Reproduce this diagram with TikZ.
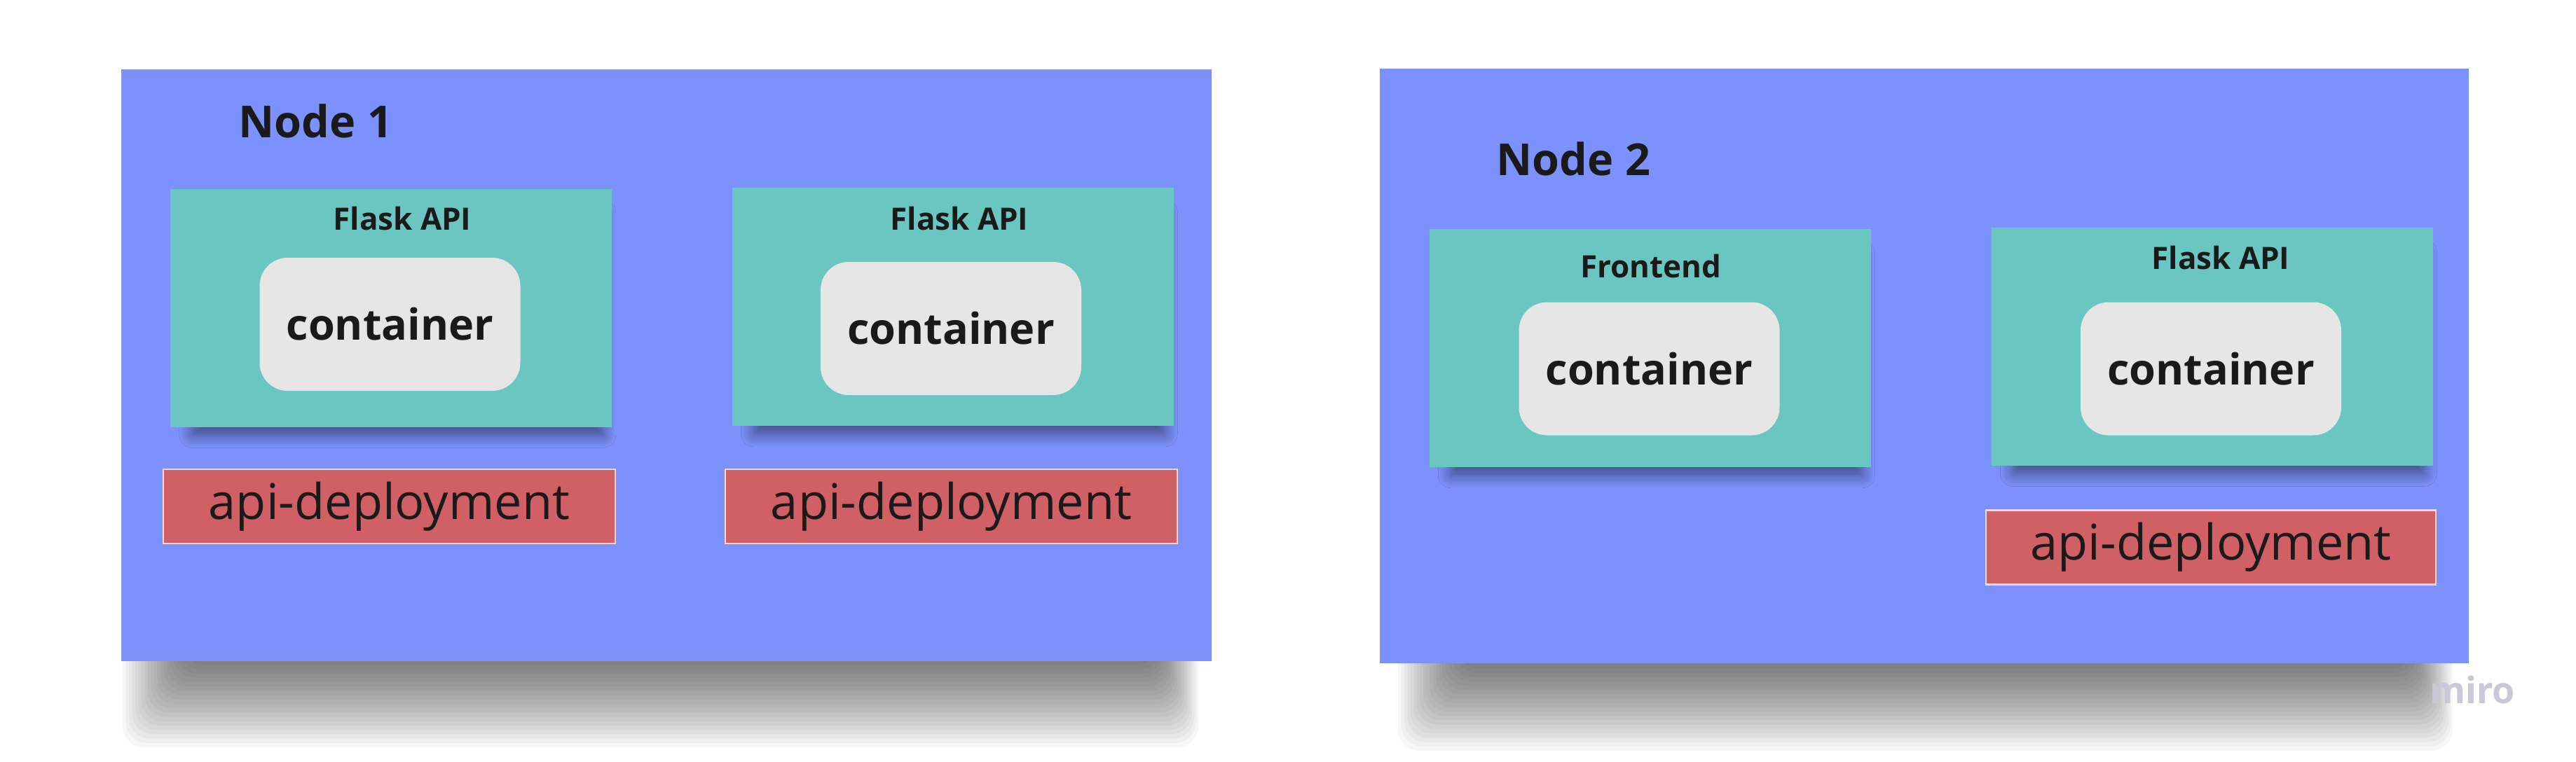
\documentclass[tikz,border=0pt]{standalone}
\usepackage{fontspec}
\setmainfont{Open Sans}
\usetikzlibrary{shadows.blur}

\definecolor{nodeblue}{RGB}{124,145,251}
\definecolor{podteal}{RGB}{105,198,193}
\definecolor{deplred}{RGB}{208,95,102}
\definecolor{ctrgray}{RGB}{230,230,230}
\definecolor{inkdark}{RGB}{26,26,26}
\definecolor{mirogray}{RGB}{200,200,214}

\begin{document}
\begin{tikzpicture}[every node/.style={text=inkdark, inner sep=0pt},
    nodebox/.style={rectangle, fill=nodeblue, minimum width=15.56cm, minimum height=8.45cm},
    shadowstrip/.style={fill=black, opacity=0.032, rounded corners=0.3cm},
    podbox/.style={rectangle, fill=podteal, minimum width=6.3cm, minimum height=3.4cm,
        blur shadow={shadow xshift=0.1cm, shadow yshift=-0.25cm, shadow scale=0.93, shadow blur radius=0.2cm,
        shadow blur steps=12, shadow opacity=50}},
    ctrbox/.style={rectangle, rounded corners=0.4cm, fill=ctrgray, minimum width=3.72cm, minimum height=1.9cm,
        font=\fontsize{17.4}{20}\selectfont\bfseries},
    deplbox/.style={rectangle, fill=deplred, draw=white!75!deplred, line width=0.6pt,
        minimum width=6.45cm, minimum height=1.06cm, font=\fontsize{20}{24}\selectfont},
    podlabel/.style={font=\fontsize{12.5}{15}\selectfont\bfseries},
    nodelabel/.style={anchor=west, font=\fontsize{17.9}{21}\selectfont\bfseries}]
    \useasboundingbox[fill=white] (0,0) rectangle (36.76,10.87);

    % shadows under the nodes
    \foreach \k in {0,...,19} {
        \fill[shadowstrip] ({1.75+\k*0.045},{0.2+\k*0.062}) rectangle ({17.1-\k*0.03},2.5);
        \fill[shadowstrip] ({19.95+\k*0.045},{0.15+\k*0.062}) rectangle ({35.0-\k*0.03},2.5);
    }

    % worker nodes
    \node[nodebox] (n1) at (9.505,5.655) {};
    \node[nodebox, minimum width=15.54cm, minimum height=8.49cm] (n2) at (27.46,5.645) {};
    \node[nodelabel] (n1t) at (3.40,9.14) {Node 1};
    \node[nodelabel] (n2t) at (21.35,8.60) {Node 2};

    % pods
    \node[podbox] (p1) at (5.58,6.475) {};
    \node[podbox] (p2) at (13.595,6.49) {};
    \node[podbox] (p3) at (23.545,5.90) {};
    \node[podbox] (p4) at (31.565,5.925) {};

    \node[podlabel] (p1t) at (5.74,7.75) {Flask API};
    \node[podlabel] (p2t) at (13.69,7.75) {Flask API};
    \node[podlabel] (p3t) at (23.56,7.07) {Frontend};
    \node[podlabel] (p4t) at (31.69,7.19) {Flask API};

    % containers
    \node[ctrbox] (c1) at (5.565,6.24) {container};
    \node[ctrbox] (c2) at (13.57,6.18) {container};
    \node[ctrbox] (c3) at (23.535,5.605) {container};
    \node[ctrbox] (c4) at (31.55,5.605) {container};

    % deployments
    \node[deplbox] (d1) at (5.555,3.64) {api-deployment};
    \node[deplbox] (d2) at (13.575,3.64) {api-deployment};
    \node[deplbox, minimum width=6.42cm] (d3) at (31.55,3.055) {api-deployment};

    \node[text=mirogray, font=\fontsize{14.8}{17}\selectfont\bfseries] (miro) at (35.28,1.02) {miro};
\end{tikzpicture}
\end{document}
